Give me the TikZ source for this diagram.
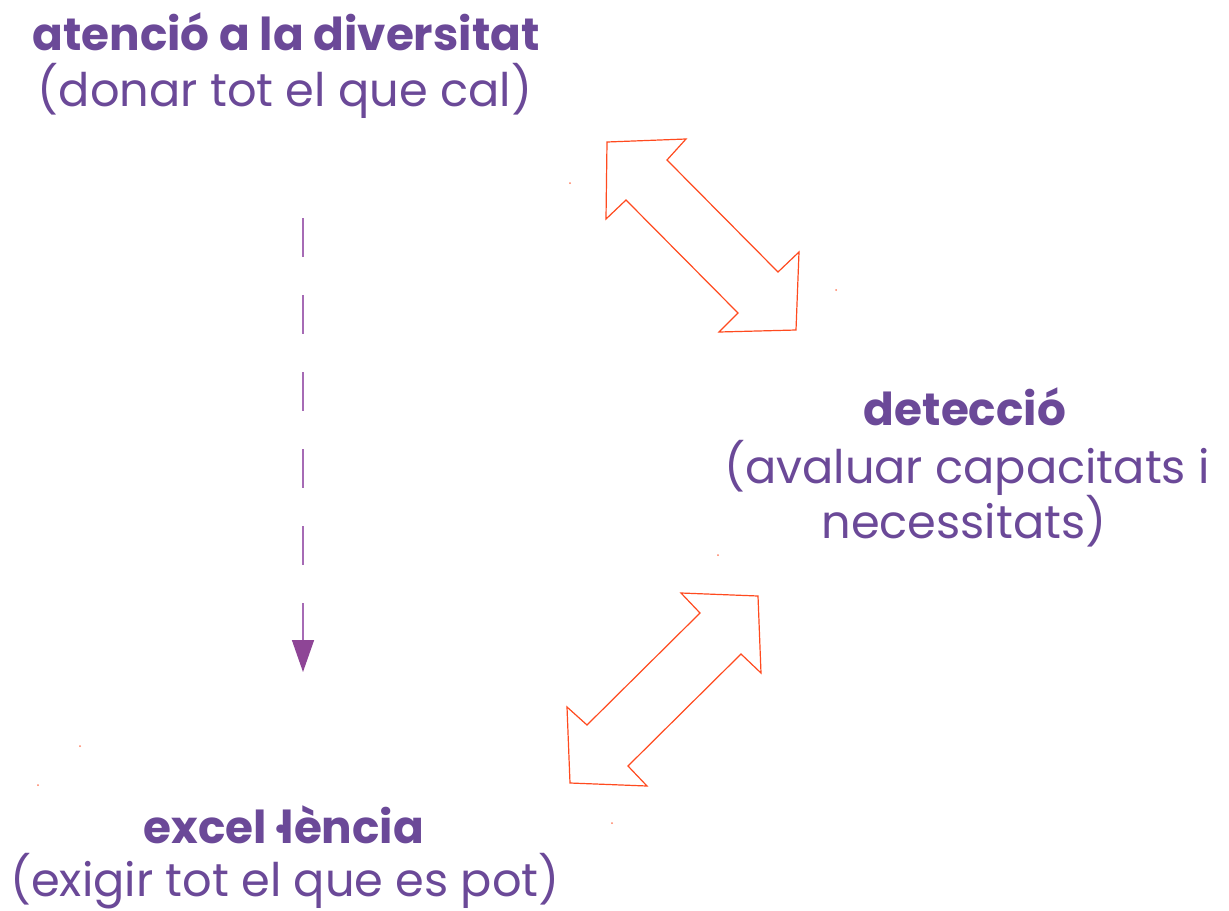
\documentclass[tikz,border=0pt]{standalone}
\usepackage{fontspec}
\setmainfont{Poppins}
\usetikzlibrary{arrows.meta}
\definecolor{txtpurple}{HTML}{6B4998}
\definecolor{linepurple}{HTML}{A66BB5}
\definecolor{headpurple}{HTML}{8E4596}
\definecolor{arrred}{HTML}{FF4A1F}
\tikzset{
  ttl/.style={text=txtpurple, font=\fontsize{34}{40}\selectfont\bfseries, anchor=base, inner sep=0pt},
  sub/.style={text=txtpurple, font=\fontsize{34.7}{40}\selectfont, anchor=base, inner sep=0pt},
  blockarrow/.style={draw=arrred, line width=0.9pt, line join=miter, fill=none},
  dasharrow/.style={draw=linepurple, line width=1.1pt, dash pattern=on 29.25pt off 28.5pt,
    -{Triangle[width=16.5pt,length=24pt,fill=headpurple,color=headpurple]}},
  speck/.style={fill=arrred!70, draw=none}
}
\begin{document}
\begin{tikzpicture}[x=0.75pt,y=-0.75pt]
\fill[white] (0,0) rectangle (1229,911);
\useasboundingbox (0,0) rectangle (1229,911);

% texts
\node[ttl] (att) at (286,50) {atenció a la diversitat};
\node[sub] (attsub) at (285,106) {(donar tot el que cal)};
\node[ttl] (det) at (965,425) {detecció};
\node[sub] (detsub1) at (967,483) {(avaluar capacitats i};
\node[sub] (detsub2) at (964,538) {necessitats)};
\node[ttl] (exc) at (284,843) {excel\,·\kern-0.17em lència};
\node[sub] (excsub) at (285,896) {(exigir tot el que es pot)};

% dashed arrow
\coordinate (ds) at (303,218);
\coordinate (de) at (303,672);
\draw[dasharrow] (ds) -- (de);

% upper double block arrow
\draw[blockarrow] (607,142) -- (686,139) -- (667,160) -- (778,272) -- (799,252)
  -- (796,330) -- (719,332) -- (738,313) -- (626,200) -- (606,219) -- cycle;

% lower double block arrow
\draw[blockarrow] (681,593) -- (758,596) -- (761,673) -- (741,654) -- (628,766)
  -- (647,786) -- (570,783) -- (567,707) -- (587,725) -- (700,613) -- cycle;

% tiny specks
\foreach \p in {(570,183),(836,290),(718,555),(80,746),(38,785),(612,823)}
  \fill[speck] \p circle (1);
\end{tikzpicture}
\end{document}
